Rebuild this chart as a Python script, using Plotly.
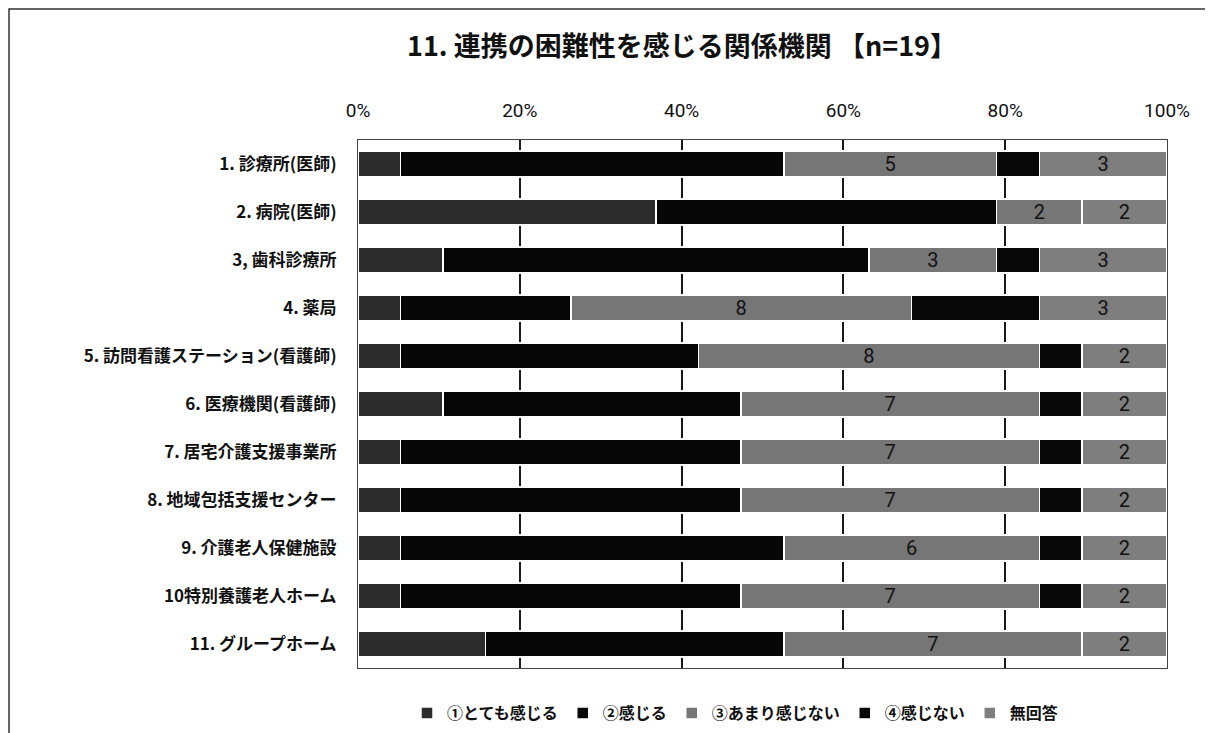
import plotly.graph_objects as go

categories = [
    "1. 診療所(医師)",
    "2. 病院(医師)",
    "3, 歯科診療所",
    "4. 薬局",
    "5. 訪問看護ステーション(看護師)",
    "6. 医療機関(看護師)",
    "7. 居宅介護支援事業所",
    "8. 地域包括支援センター",
    "9. 介護老人保健施設",
    "10特別養護老人ホーム",
    "11. グループホーム",
]
series_names = ["①とても感じる", "②感じる", "③あまり感じない", "④感じない", "無回答"]
v_very = [1, 7, 2, 1, 1, 2, 1, 1, 1, 1, 3]
v_feel = [9, 8, 10, 4, 7, 7, 8, 8, 9, 8, 7]
v_notmuch = [5, 2, 3, 8, 8, 7, 7, 7, 6, 7, 7]
v_not = [1, 0, 1, 3, 1, 1, 1, 1, 1, 1, 0]
v_noans = [3, 2, 3, 3, 2, 2, 2, 2, 2, 2, 2]
n_total = 19
tick_vals = [0, 20, 40, 60, 80, 100]
tick_text = ["0%", "20%", "40%", "60%", "80%", "100%"]

series_values = [v_very, v_feel, v_notmuch, v_not, v_noans]
colors = ["#2b2b2b", "#060606", "#767676", "#080808", "#7e7e7e"]
show_text = [False, False, True, False, True]

num_font = "Liberation Sans Narrow, Roboto, Liberation Sans, Arial, sans-serif"
jp_font = "Noto Sans CJK JP, sans-serif"

L, R, T, B = 350, 54, 132, 73
W, H = 1213, 733
pw, ph = W - L - R, H - T - B

fig = go.Figure()
for name, vals, col, st in zip(series_names, series_values, colors, show_text):
    pct = [v / n_total * 100 for v in vals]
    fig.add_trace(go.Bar(
        y=categories,
        x=pct,
        name=name,
        orientation="h",
        marker=dict(color=col, line=dict(color="white", width=1.5)),
        text=[str(v) if (st and v > 0) else "" for v in vals],
        textposition="inside",
        textangle=0,
        insidetextanchor="middle",
        textfont=dict(family=num_font, size=20, color="#111111"),
        hoverinfo="skip",
    ))

fig.update_layout(
    barmode="stack",
    bargap=0.46,
    width=W,
    height=H,
    paper_bgcolor="white",
    plot_bgcolor="white",
    margin=dict(l=L, r=R, t=T, b=B, autoexpand=False),
    uniformtext=dict(minsize=19, mode="show"),
    title=dict(
        text="<b>11. 連携の困難性を感じる関係機関 【n=19】</b>",
        x=674 / W, xref="container", xanchor="center",
        y=1 - 39 / H, yref="container", yanchor="middle",
        font=dict(family=jp_font, size=27, color="#111111"),
    ),
    xaxis=dict(
        side="top",
        range=[0, 100],
        tickvals=tick_vals,
        ticktext=tick_text,
        ticklabelstandoff=14,
        tickfont=dict(family=num_font, size=19, color="#111111"),
        showgrid=True,
        gridcolor="#1a1a1a",
        gridwidth=1.5,
        showline=True,
        linecolor="#444444",
        mirror=True,
        zeroline=False,
        ticks="",
    ),
    yaxis=dict(
        autorange="reversed",
        tickfont=dict(family=jp_font, size=17, color="#111111", weight="bold"),
        ticklabelstandoff=17,
        showline=True,
        linecolor="#444444",
        mirror=True,
        showgrid=False,
        ticks="",
    ),
    legend=dict(
        orientation="h",
        x=(735 - 8 - L) / pw, xref="paper", xanchor="center",
        y=-(705 - (T + ph)) / ph, yref="paper", yanchor="middle",
        font=dict(family=jp_font, size=16, color="#111111", weight="bold"),
        itemwidth=30,
        traceorder="normal",
    ),
    shapes=[
        dict(type="rect", xref="paper", yref="paper",
             x0=-(L - 1) / pw, x1=(W - L + 40) / pw, y0=-(B + 40) / ph, y1=1 + (T - 1) / ph,
             line=dict(color="#333333", width=1.5), fillcolor="rgba(0,0,0,0)",
             layer="below"),
    ],
)

fig.write_html("out.html")
